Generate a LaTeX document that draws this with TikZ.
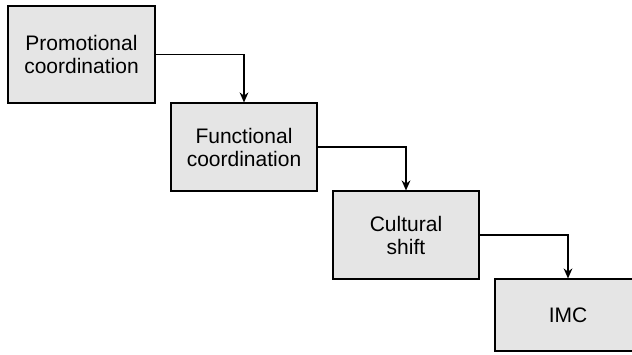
\documentclass[tikz,border=0pt]{standalone}
\usepackage{fontspec}
\setmainfont{Liberation Sans}
\usetikzlibrary{arrows.meta}
\tikzset{box/.style={draw,fill=gray!20,line width=0.6pt,align=center,minimum width=73pt,minimum height=44pt,inner sep=2pt,font=\fontsize{10.5}{11.5}\selectfont},
  arr/.style={-{Stealth[length=5pt,width=4.4pt]},line width=0.6pt}}

\begin{document}
\begin{tikzpicture}[x=0.5pt,y=-0.5pt]
\clip (0,0) rectangle (632,354);
\node[box,minimum width=73.5pt,minimum height=48.5pt] (promo) at (81.5,54.5) {Promotional\\coordination};
\node[box] (func) at (244,147) {Functional\\coordination};
\node[box] (cult) at (406,235) {Cultural\\shift};
\node[box,minimum height=36pt] (imc) at (568,315) {IMC};
\draw[arr] (promo.east) -| (func.north);
\draw[arr] (func.east) -| (cult.north);
\draw[arr] (cult.east) -| (imc.north);
\end{tikzpicture}
\end{document}
